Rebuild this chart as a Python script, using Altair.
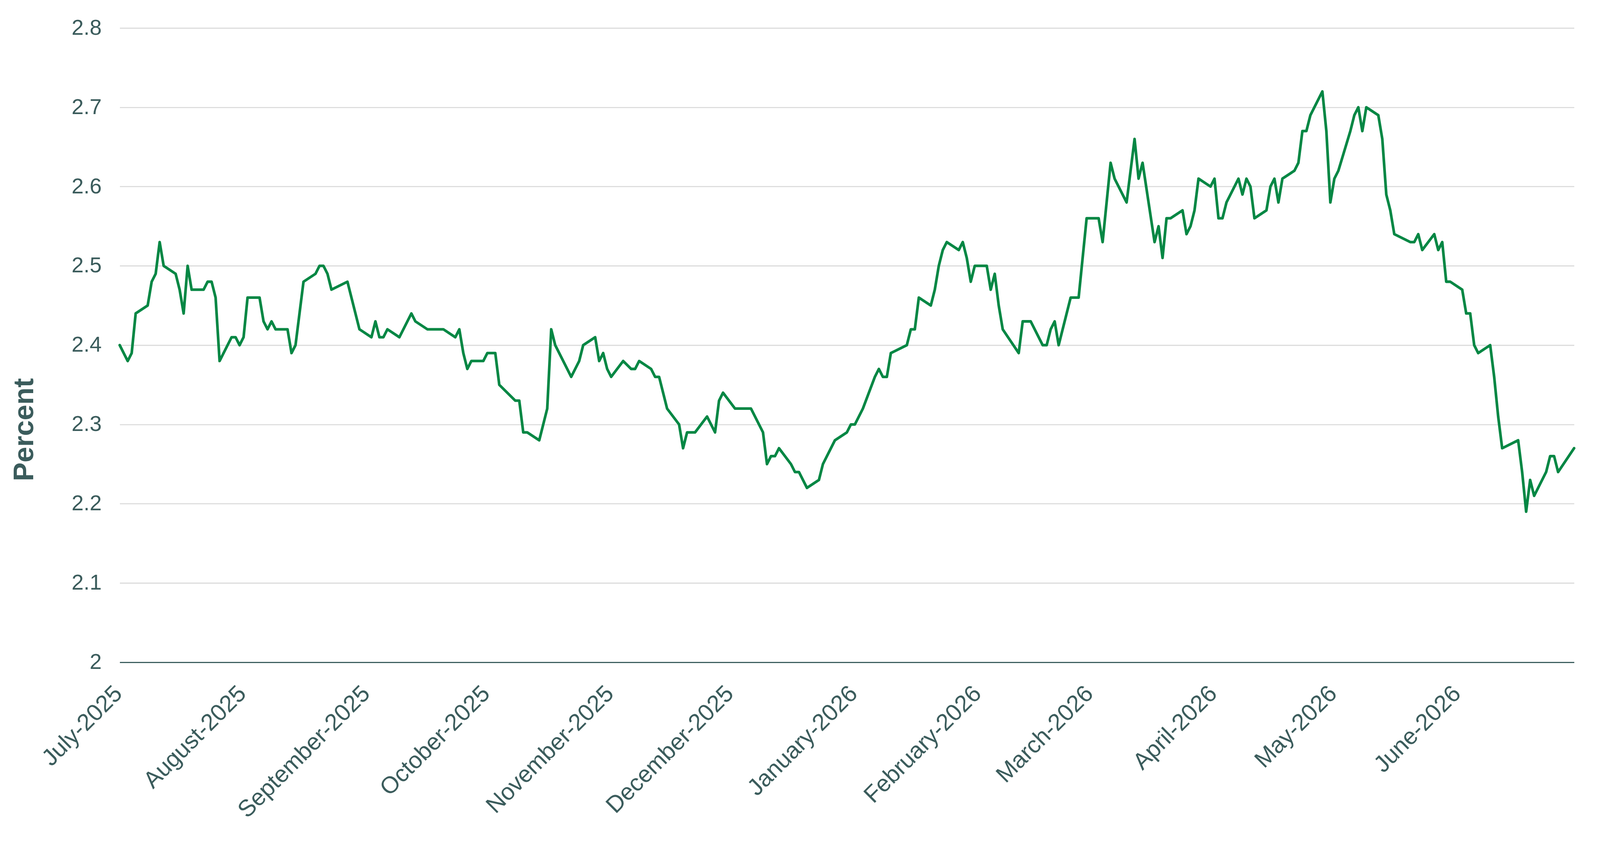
import datetime as dt
import altair as alt
import pandas as pd

# Calendar-day offsets from 1 July 2025 of each visible vertex of the line
day_offsets = [
    0, 2, 3, 4, 7, 8, 9, 10, 11, 14, 15, 16, 17, 18, 21, 22, 23, 24, 25,
    28, 29, 30, 31, 32, 35, 36, 37, 38, 39, 42, 43, 44, 46, 49, 50, 51, 52, 53,
    57, 60, 63, 64, 65, 66, 67, 70, 71, 72, 73, 74, 77, 81, 84, 85, 86, 87, 88,
    91, 92, 94, 95, 99, 100, 101, 102, 105, 106, 107, 108, 109, 113, 115, 116,
    119, 120, 121, 122, 123, 126, 128, 129, 130, 133, 134, 135, 136, 137,
    140, 141, 142, 144, 147, 149, 150, 151, 154, 158, 161, 162, 163, 164, 165,
    168, 169, 170, 172, 175, 176, 179, 182, 183, 184, 185, 186, 189, 190, 191,
    192, 193, 197, 198, 199, 200, 203, 204, 205, 206, 207, 210, 211, 212, 213,
    214, 217, 218, 219, 220, 221, 225, 226, 228, 231, 232, 233, 234, 235, 238,
    240, 242, 245, 246, 248, 249, 252, 254, 255, 256, 259, 260, 261, 262, 263,
    266, 267, 268, 269, 270, 273, 274, 275, 276, 277, 280, 281, 282, 283, 284,
    287, 288, 289, 290, 291, 294, 295, 296, 297, 298, 301, 302, 303, 304, 305,
    308, 309, 310, 311, 312, 315, 316, 317, 318, 319, 323, 324, 325, 326, 329,
    330, 331, 332, 333, 336, 337, 338, 339, 340, 343, 344, 345, 346, 350, 351,
    352, 353, 354, 357, 358, 359, 360, 364,
]

# Percent values at those vertices
rates = [
    2.40, 2.38, 2.39, 2.44, 2.45, 2.48, 2.49, 2.53, 2.50, 2.49, 2.47, 2.44, 2.50, 2.47, 2.47, 2.48, 2.48, 2.46, 2.38,
    2.41, 2.41, 2.40, 2.41, 2.46, 2.46, 2.43, 2.42, 2.43, 2.42, 2.42, 2.39, 2.40, 2.48, 2.49, 2.50, 2.50, 2.49, 2.47,
    2.48, 2.42, 2.41, 2.43, 2.41, 2.41, 2.42, 2.41, 2.42, 2.43, 2.44, 2.43, 2.42, 2.42, 2.41, 2.42, 2.39, 2.37, 2.38,
    2.38, 2.39, 2.39, 2.35, 2.33, 2.33, 2.29, 2.29, 2.28, 2.30, 2.32, 2.42, 2.40, 2.36, 2.38, 2.40,
    2.41, 2.38, 2.39, 2.37, 2.36, 2.38, 2.37, 2.37, 2.38, 2.37, 2.36, 2.36, 2.34, 2.32,
    2.30, 2.27, 2.29, 2.29, 2.31, 2.29, 2.33, 2.34, 2.32, 2.32, 2.29, 2.25, 2.26, 2.26, 2.27,
    2.25, 2.24, 2.24, 2.22, 2.23, 2.25, 2.28, 2.29, 2.30, 2.30, 2.31, 2.32, 2.36, 2.37, 2.36,
    2.36, 2.39, 2.40, 2.42, 2.42, 2.46, 2.45, 2.47, 2.50, 2.52, 2.53, 2.52, 2.53, 2.51, 2.48,
    2.50, 2.50, 2.47, 2.49, 2.45, 2.42, 2.39, 2.43, 2.43, 2.40, 2.40, 2.42, 2.43, 2.40, 2.46,
    2.46, 2.56, 2.56, 2.53, 2.63, 2.61, 2.58, 2.66, 2.61, 2.63, 2.53, 2.55, 2.51, 2.56, 2.56,
    2.57, 2.54, 2.55, 2.57, 2.61, 2.60, 2.61, 2.56, 2.56, 2.58, 2.61, 2.59, 2.61, 2.60, 2.56,
    2.57, 2.60, 2.61, 2.58, 2.61, 2.62, 2.63, 2.67, 2.67, 2.69, 2.72, 2.67, 2.58, 2.61, 2.62,
    2.67, 2.69, 2.70, 2.67, 2.70, 2.69, 2.66, 2.59, 2.57, 2.54, 2.53, 2.53, 2.54, 2.52, 2.54,
    2.52, 2.53, 2.48, 2.48, 2.47, 2.44, 2.44, 2.40, 2.39, 2.40, 2.36, 2.31, 2.27, 2.28, 2.24,
    2.19, 2.23, 2.21, 2.24, 2.26, 2.26, 2.24, 2.27,
]

# Axis ticks
y_ticks = [2.0, 2.1, 2.2, 2.3, 2.4, 2.5, 2.6, 2.7, 2.8]
month_ticks = [(2025, m) for m in range(7, 13)] + [(2026, m) for m in range(1, 7)]

start = dt.date(2025, 7, 1)
df = pd.DataFrame({
    "date": [(start + dt.timedelta(days=d)).isoformat() + "T00:00:00" for d in day_offsets],
    "rate": rates,
})

TEXT = "#3b5c5c"
FONT = "Liberation Sans"

x_axis = alt.Axis(
    values=[alt.DateTime(year=y, month=m, date=1) for y, m in month_ticks],
    format="%B-%Y",
    labelAngle=315,
    labelAlign="right",
    labelBaseline="top",
    labelPadding=51,
    labelOffset=-25,
    labelFontSize=62,
    labelFont=FONT,
    labelColor=TEXT,
    labelOverlap=False,
    labelFlush=False,
    labelLimit=0,
    ticks=False,
    tickSize=0,
    grid=False,
    domain=True,
    domainColor="#3d5f5f",
    domainWidth=3,
    title=None,
)

y_axis = alt.Axis(
    values=y_ticks,
    format=".1~f",
    labelPadding=48,
    labelFontSize=57,
    labelFont=FONT,
    labelColor=TEXT,
    labelOverlap=False,
    labelLimit=0,
    ticks=False,
    tickSize=0,
    domain=False,
    grid=True,
    gridColor="#d9d9d9",
    gridWidth=2.7,
    title="Percent",
    titleFont=FONT,
    titleFontSize=74,
    titleFontWeight="bold",
    titleColor=TEXT,
    titleAngle=270,
    titleAlign="center",
    titleBaseline="alphabetic",
    titleX=-228,
    titleY=1057,
)

chart = (
    alt.Chart(df)
    .mark_line(color="#058744", strokeWidth=7, strokeJoin="round", strokeCap="round")
    .encode(
        x=alt.X(
            "date:T",
            scale=alt.Scale(
                domain=[alt.DateTime(year=2025, month=7, date=1), alt.DateTime(year=2026, month=6, date=30)],
                nice=False,
            ),
            axis=x_axis,
        ),
        y=alt.Y(
            "rate:Q",
            scale=alt.Scale(domain=[2.0, 2.8], nice=False, zero=False),
            axis=y_axis,
        ),
    )
    .properties(
        width=3830,
        height=1670,
        background="white",
        autosize=alt.AutoSizeParams(type="none"),
        padding={"left": 307, "top": 35, "right": 60, "bottom": 420},
    )
    .configure_view(strokeWidth=0, stroke=None)
)

chart.save("out.html", embed_options={"renderer": "svg", "actions": False})
